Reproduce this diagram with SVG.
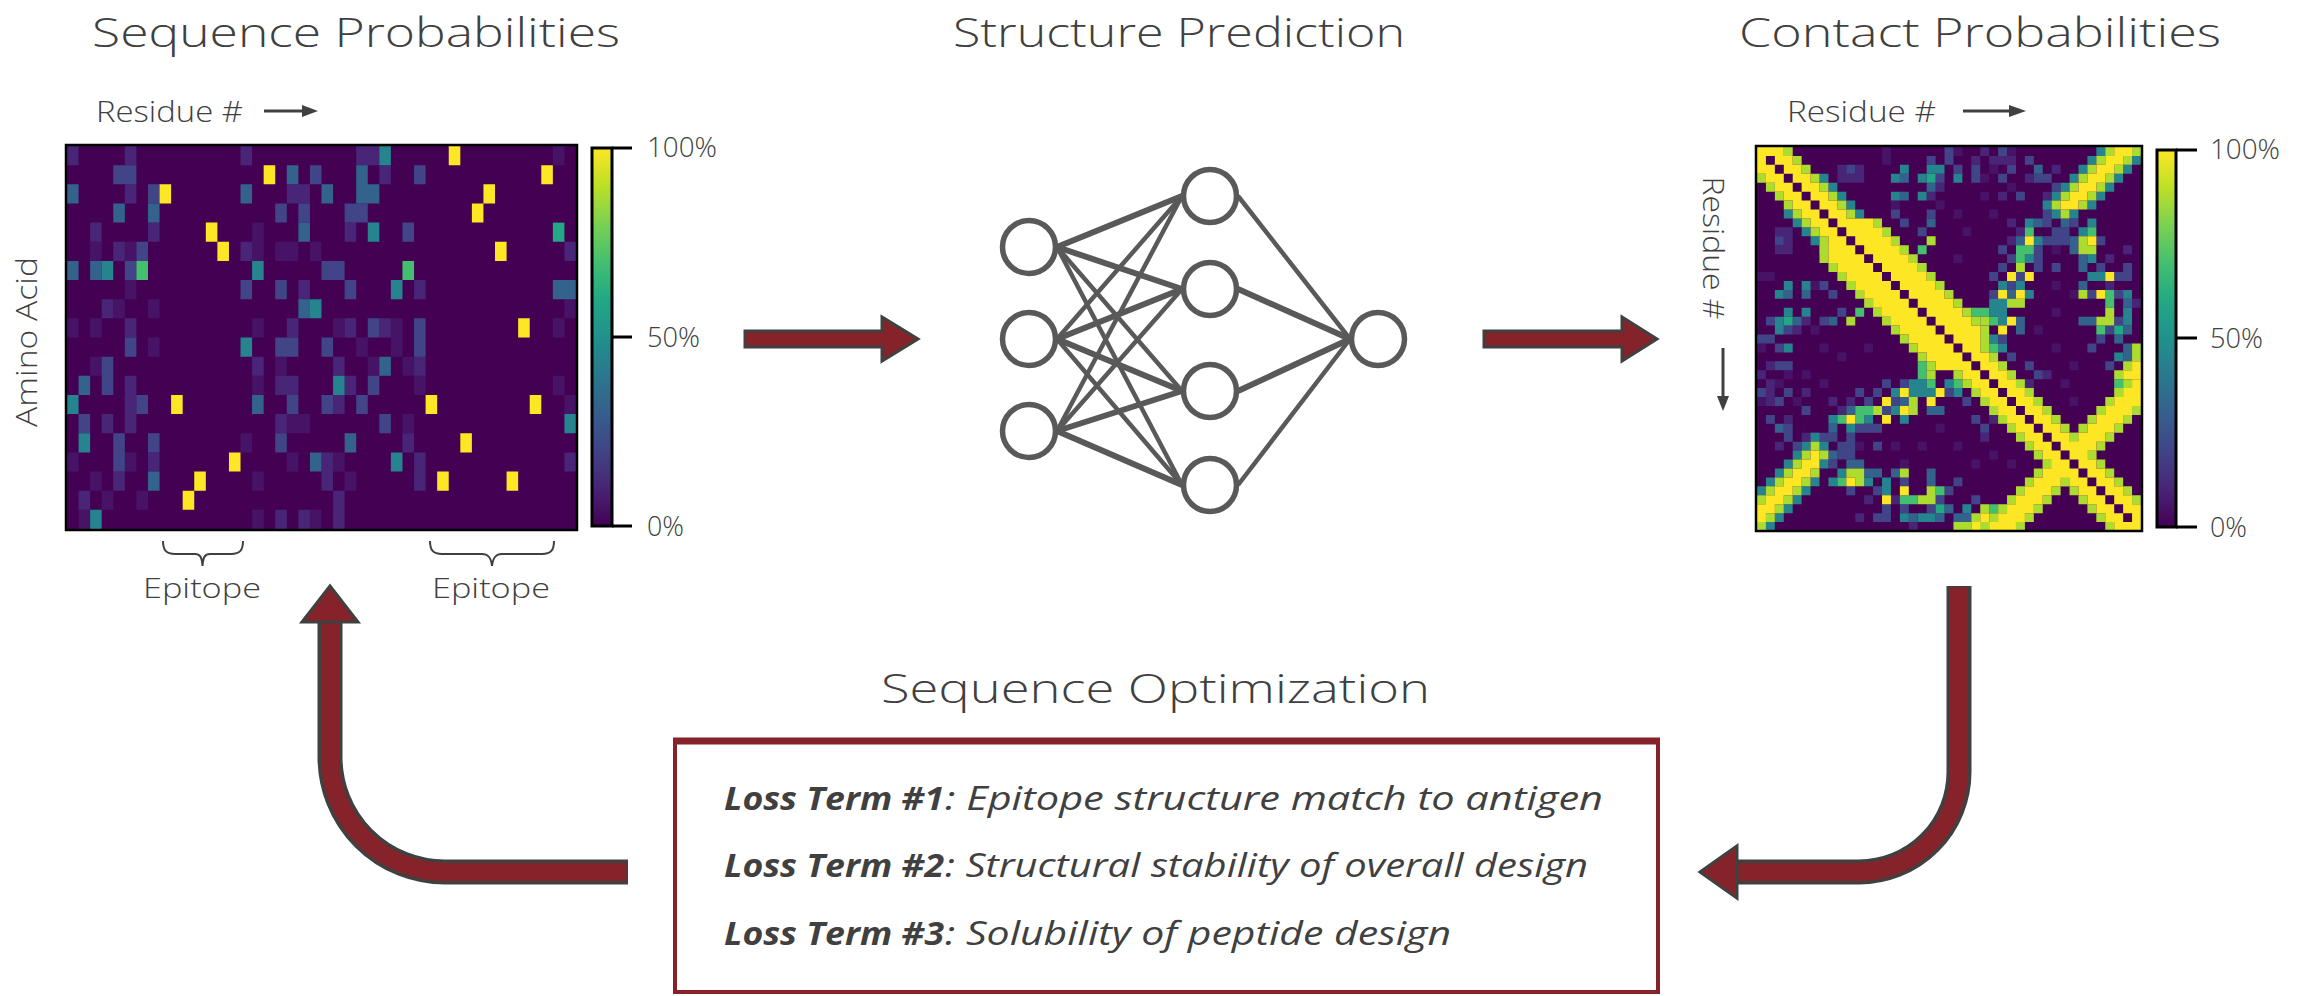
<svg xmlns="http://www.w3.org/2000/svg" xmlns:xlink="http://www.w3.org/1999/xlink" width="2307" height="996" viewBox="0 0 2307 996">
<defs>
<style>
.t{font-family:"Open Sans","Liberation Sans",Arial,sans-serif;font-weight:300;fill:#404040}
.title{font-size:40px}
.lab{font-size:30px}
.pct{font-size:27px}
.epi{font-size:27px}
.loss{font-size:33px;font-style:italic;font-weight:400}
.lb{font-weight:700}
.a{fill:#471366}.b{fill:#482576}.c{fill:#414487}.d{fill:#33638d}.e{fill:#25848e}.f{fill:#22a884}.g{fill:#44bf70}.h{fill:#addc30}.y{fill:#fde725}.k{fill:#440154}
.frame{fill:none;stroke:#000;stroke-width:2.5}
.cbar{stroke:#000;stroke-width:3}
.tick{stroke:#000;stroke-width:3}
.nn-edge{stroke:#595959;stroke-width:4.5}
.nn-edge.w{stroke-width:6}
.nn-node{fill:#fff;stroke:#595959;stroke-width:5.5}
.redarrow{fill:#86232a;stroke:#404040;stroke-width:3;stroke-linejoin:miter}
.bandout{fill:none;stroke:#404040;stroke-width:25}
.bandin{fill:none;stroke:#86232a;stroke-width:18}
.smallarrow{stroke:#404040;stroke-width:3}
.brace{fill:none;stroke:#404040;stroke-width:2}
</style>
<linearGradient id="viridis" x1="0" y1="0" x2="0" y2="1">
<stop offset="0" stop-color="#fde725"/>
<stop offset="0.1" stop-color="#bddf26"/>
<stop offset="0.2" stop-color="#7ad151"/>
<stop offset="0.3" stop-color="#44bf70"/>
<stop offset="0.4" stop-color="#22a884"/>
<stop offset="0.5" stop-color="#21918c"/>
<stop offset="0.6" stop-color="#2a788e"/>
<stop offset="0.7" stop-color="#355f8d"/>
<stop offset="0.8" stop-color="#414487"/>
<stop offset="0.9" stop-color="#482475"/>
<stop offset="1" stop-color="#440154"/>
</linearGradient>
</defs>
<rect width="2307" height="996" fill="#fff"/>

<g id="titles">
<text class="t title" x="92" y="47" textLength="528" lengthAdjust="spacingAndGlyphs">Sequence Probabilities</text>
<text class="t title" x="953" y="47" textLength="452" lengthAdjust="spacingAndGlyphs">Structure Prediction</text>
<text class="t title" x="1739" y="47" textLength="482" lengthAdjust="spacingAndGlyphs">Contact Probabilities</text>
<text class="t title" x="881" y="703" textLength="549" lengthAdjust="spacingAndGlyphs">Sequence Optimization</text>
</g>

<g id="seq-heatmap">
<text class="t lab" x="96" y="122" textLength="147" lengthAdjust="spacingAndGlyphs">Residue #</text>
<line class="smallarrow" x1="264" y1="111" x2="305" y2="111"/>
<polygon points="302,105 318,111 302,117" fill="#404040"/>
<text class="t lab" transform="translate(37,342) rotate(-90)" text-anchor="middle" textLength="170" lengthAdjust="spacingAndGlyphs">Amino Acid</text>
<g transform="translate(67,146) scale(11.568,19.15)">
<rect x="0" y="0" width="44" height="20" class="k"/>
<path class="a" d="M42 0h1v1h-1zM16 4h1v1h-1zM2 5h1v1h-1zM5 5h1v1h-1zM16 5h1v1h-1zM18 5h2v1h-2zM21 5h1v1h-1zM5 7h1v1h-1zM4 8h1v1h-1zM7 8h1v1h-1zM43 8h1v1h-1zM0 9h1v1h-1zM2 9h1v1h-1zM16 9h1v1h-1zM23 9h1v1h-1zM28 9h1v1h-1zM42 9h1v1h-1zM7 10h1v1h-1zM25 10h1v1h-1zM28 10h1v1h-1zM2 11h1v1h-1zM18 11h1v1h-1zM26 11h1v1h-1zM29 11h1v1h-1zM16 12h1v1h-1zM30 12h1v1h-1zM42 12h1v1h-1zM43 13h1v1h-1zM19 14h2v1h-2zM29 14h1v1h-1zM15 15h1v1h-1zM0 16h1v1h-1zM5 16h1v1h-1zM19 16h1v1h-1zM23 16h1v1h-1zM2 17h1v1h-1zM16 17h1v1h-1zM24 17h1v1h-1zM3 18h1v1h-1zM6 18h1v1h-1zM1 19h1v1h-1zM16 19h1v1h-1zM21 19h1v1h-1z"/>
<path class="b" d="M0 0h1v1h-1zM5 0h1v1h-1zM15 0h1v1h-1zM25 0h2v1h-2zM27 1h1v1h-1zM5 2h1v1h-1zM19 2h2v1h-2zM2 4h1v1h-1zM7 4h1v1h-1zM24 4h1v1h-1zM4 5h1v1h-1zM15 5h1v1h-1zM43 5h1v1h-1zM20 7h1v1h-1zM30 7h1v1h-1zM3 8h1v1h-1zM5 9h1v1h-1zM19 9h1v1h-1zM24 9h1v1h-1zM27 9h1v1h-1zM16 11h1v1h-1zM23 11h1v1h-1zM30 11h1v1h-1zM5 12h1v1h-1zM18 12h2v1h-2zM24 12h1v1h-1zM5 13h1v1h-1zM23 13h1v1h-1zM3 14h1v1h-1zM5 14h1v1h-1zM18 14h1v1h-1zM29 15h1v1h-1zM7 16h1v1h-1zM22 16h1v1h-1zM30 16h1v1h-1zM43 16h1v1h-1zM4 17h1v1h-1zM22 17h1v1h-1zM30 17h1v1h-1zM1 18h1v1h-1zM23 18h1v1h-1zM18 19h1v1h-1zM20 19h1v1h-1zM23 19h1v1h-1z"/>
<path class="c" d="M4 1h2v1h-2zM21 1h1v1h-1zM30 1h1v1h-1zM7 2h1v1h-1zM18 3h1v1h-1zM20 3h1v1h-1zM24 3h2v1h-2zM29 4h1v1h-1zM6 5h1v1h-1zM5 6h1v1h-1zM22 6h2v1h-2zM15 7h1v1h-1zM18 7h1v1h-1zM24 7h1v1h-1zM26 9h1v1h-1zM30 9h1v1h-1zM5 10h1v1h-1zM18 10h2v1h-2zM22 10h1v1h-1zM30 10h1v1h-1zM3 11h1v1h-1zM3 12h1v1h-1zM26 12h1v1h-1zM6 13h1v1h-1zM19 13h1v1h-1zM22 13h1v1h-1zM25 13h1v1h-1zM1 14h1v1h-1zM27 14h1v1h-1zM4 15h1v1h-1zM7 15h1v1h-1zM18 15h1v1h-1zM4 16h1v1h-1z"/>
<path class="d" d="M19 1h1v1h-1zM25 1h1v1h-1zM0 2h1v1h-1zM15 2h1v1h-1zM22 2h1v1h-1zM25 2h2v1h-2zM4 3h1v1h-1zM7 3h1v1h-1zM20 4h1v1h-1zM0 6h1v1h-1zM2 6h1v1h-1zM42 7h2v1h-2zM20 8h1v1h-1zM27 11h1v1h-1zM1 12h1v1h-1zM16 13h1v1h-1zM24 15h1v1h-1zM21 16h1v1h-1zM7 17h1v1h-1z"/>
<path class="e" d="M27 0h1v1h-1zM26 4h1v1h-1zM3 6h1v1h-1zM16 6h1v1h-1zM28 7h1v1h-1zM21 8h1v1h-1zM15 10h1v1h-1zM23 12h1v1h-1zM0 13h1v1h-1zM43 14h1v1h-1zM1 15h1v1h-1zM28 16h1v1h-1zM2 19h1v1h-1z"/>
<path class="f" d="M42 4h1v1h-1z"/>
<path class="g" d="M6 6h1v1h-1zM29 6h1v1h-1z"/>
<path class="y" d="M33 0h1v1h-1zM17 1h1v1h-1zM41 1h1v1h-1zM8 2h1v1h-1zM36 2h1v1h-1zM35 3h1v1h-1zM12 4h1v1h-1zM13 5h1v1h-1zM37 5h1v1h-1zM39 9h1v1h-1zM9 13h1v1h-1zM31 13h1v1h-1zM40 13h1v1h-1zM34 15h1v1h-1zM14 16h1v1h-1zM11 17h1v1h-1zM32 17h1v1h-1zM38 17h1v1h-1zM10 18h1v1h-1z"/>
</g>
<rect class="frame" x="66" y="145" width="511" height="385"/>
<path class="brace" d="M163 541C163 550 166 554 175 554H195C200 554 202 557 202.5 566C203 557 205 554 210 554H231C240 554 243 550 243 541"/>
<path class="brace" d="M430 541C430 550 433 554 442 554H482C488 554 491 557 492 566C493 557 496 554 502 554H542C551 554 554 550 554 541"/>
<text class="t epi" x="143" y="598" textLength="118" lengthAdjust="spacingAndGlyphs">Epitope</text>
<text class="t epi" x="432" y="598" textLength="118" lengthAdjust="spacingAndGlyphs">Epitope</text>
</g>

<g id="seq-colorbar">
<rect class="cbar" x="592" y="148" width="20" height="378" fill="url(#viridis)"/>
<line class="tick" x1="612" y1="148" x2="632" y2="148"/>
<line class="tick" x1="612" y1="337" x2="632" y2="337"/>
<line class="tick" x1="612" y1="526" x2="632" y2="526"/>
<text class="t pct" x="647" y="157" textLength="70" lengthAdjust="spacingAndGlyphs">100%</text>
<text class="t pct" x="647" y="347" textLength="53" lengthAdjust="spacingAndGlyphs">50%</text>
<text class="t pct" x="647" y="536" textLength="37" lengthAdjust="spacingAndGlyphs">0%</text>
</g>

<g id="structure-prediction">
<line class="nn-edge w" x1="1057" y1="247" x2="1182" y2="196"/>
<line class="nn-edge w" x1="1057" y1="247" x2="1182" y2="289"/>
<line class="nn-edge" x1="1057" y1="247" x2="1182" y2="391"/>
<line class="nn-edge" x1="1057" y1="247" x2="1182" y2="485"/>
<line class="nn-edge" x1="1057" y1="339" x2="1182" y2="196"/>
<line class="nn-edge w" x1="1057" y1="339" x2="1182" y2="289"/>
<line class="nn-edge w" x1="1057" y1="339" x2="1182" y2="391"/>
<line class="nn-edge" x1="1057" y1="339" x2="1182" y2="485"/>
<line class="nn-edge" x1="1057" y1="431" x2="1182" y2="196"/>
<line class="nn-edge" x1="1057" y1="431" x2="1182" y2="289"/>
<line class="nn-edge w" x1="1057" y1="431" x2="1182" y2="391"/>
<line class="nn-edge w" x1="1057" y1="431" x2="1182" y2="485"/>
<line class="nn-edge" x1="1238" y1="196" x2="1350" y2="339"/>
<line class="nn-edge w" x1="1238" y1="289" x2="1350" y2="339"/>
<line class="nn-edge w" x1="1238" y1="391" x2="1350" y2="339"/>
<line class="nn-edge" x1="1238" y1="485" x2="1350" y2="339"/>
<circle class="nn-node" cx="1029" cy="247" r="26.5"/>
<circle class="nn-node" cx="1029" cy="339" r="26.5"/>
<circle class="nn-node" cx="1029" cy="431" r="26.5"/>
<circle class="nn-node" cx="1210" cy="196" r="26.5"/>
<circle class="nn-node" cx="1210" cy="289" r="26.5"/>
<circle class="nn-node" cx="1210" cy="391" r="26.5"/>
<circle class="nn-node" cx="1210" cy="485" r="26.5"/>
<circle class="nn-node" cx="1378" cy="339" r="26.5"/>
</g>

<g id="contact-heatmap">
<text class="t lab" x="1787" y="122" textLength="149" lengthAdjust="spacingAndGlyphs">Residue #</text>
<line class="smallarrow" x1="1963" y1="111" x2="2012" y2="111"/>
<polygon points="2009,105 2026,111 2009,117" fill="#404040"/>
<text class="t lab" transform="translate(1703,248) rotate(90)" text-anchor="middle" textLength="143" lengthAdjust="spacingAndGlyphs">Residue #</text>
<line class="smallarrow" x1="1723" y1="348" x2="1723" y2="398"/>
<polygon points="1717,396 1723,411 1729,396" fill="#404040"/>
<g transform="translate(1757,147) scale(8.93)">
<rect x="0" y="0" width="43" height="43" class="k"/>
<g id="cm-half">
<path class="a" d="M14 0h1v1h-1zM22 0h1v1h-1zM28 0h1v1h-1zM14 1h1v1h-1zM26 2h1v1h-1zM25 3h1v1h-1zM28 4h1v1h-1zM25 5h1v1h-1zM15 6h1v1h-1zM20 6h1v1h-1zM22 7h1v1h-1zM26 7h1v1h-1zM23 9h1v1h-1zM33 11h1v1h-1zM22 12h1v1h-1zM33 15h1v1h-1zM35 16h1v1h-1zM33 18h1v1h-1zM31 20h1v1h-1zM33 22h1v1h-1zM35 24h1v1h-1zM34 26h1v1h-1zM35 28h1v1h-1z"/>
<path class="b" d="M25 0h1v1h-1zM24 1h1v1h-1zM26 1h3v1h-3zM9 2h1v1h-1zM11 2h1v1h-1zM33 2h1v1h-1zM9 3h3v1h-3zM30 3h1v1h-1zM20 4h1v1h-1zM19 5h1v1h-1zM27 5h1v1h-1zM32 5h1v1h-1zM28 8h1v1h-1zM29 9h1v1h-1zM28 10h1v1h-1zM41 11h1v1h-1zM39 12h1v1h-1zM39 15h1v1h-1zM42 17h1v1h-1zM32 25h1v1h-1zM30 26h1v1h-1z"/>
<path class="c" d="M21 0h1v1h-1zM27 0h1v1h-1zM19 1h1v1h-1zM21 1h1v1h-1zM30 1h1v1h-1zM10 2h1v1h-1zM22 2h1v1h-1zM24 2h1v1h-1zM28 2h1v1h-1zM20 3h1v1h-1zM24 3h1v1h-1zM27 3h1v1h-1zM31 3h2v1h-2zM33 4h1v1h-1zM29 5h1v1h-1zM32 6h1v1h-1zM15 7h1v1h-1zM19 7h1v1h-1zM32 7h1v1h-1zM16 8h1v1h-1zM32 8h1v1h-1zM35 8h1v1h-1zM18 9h1v1h-1zM33 9h2v1h-2zM32 10h3v1h-3zM38 10h1v1h-1zM27 11h1v1h-1zM31 11h1v1h-1zM28 12h1v1h-1zM31 12h1v1h-1zM27 13h1v1h-1zM31 13h1v1h-1zM33 13h1v1h-1zM38 13h1v1h-1zM41 13h1v1h-1zM26 14h1v1h-1zM29 14h1v1h-1zM40 14h2v1h-2zM28 15h1v1h-1zM26 16h1v1h-1zM37 16h1v1h-1zM40 16h1v1h-1zM40 19h1v1h-1zM39 20h1v1h-1zM27 21h1v1h-1zM38 21h1v1h-1zM37 22h1v1h-1zM28 23h1v1h-1zM30 24h1v1h-1zM39 24h1v1h-1zM31 25h1v1h-1z"/>
<path class="d" d="M31 2h1v1h-1zM16 3h1v1h-1zM19 4h1v1h-1zM16 5h1v1h-1zM33 7h1v1h-1zM19 8h1v1h-1zM31 8h1v1h-1zM34 8h1v1h-1zM29 10h1v1h-1zM35 10h1v1h-1zM35 11h1v1h-1zM36 12h1v1h-1zM36 13h1v1h-1zM36 15h1v1h-1zM28 16h1v1h-1zM41 17h1v1h-1zM29 19h1v1h-1zM36 19h2v1h-2zM29 20h1v1h-1zM41 20h1v1h-1zM40 21h1v1h-1zM41 22h1v1h-1zM41 23h1v1h-1z"/>
<path class="e" d="M16 2h1v1h-1zM19 2h2v1h-2zM15 3h1v1h-1zM18 3h1v1h-1zM22 3h1v1h-1zM15 5h1v1h-1zM18 5h1v1h-1zM30 8h1v1h-1zM37 8h1v1h-1zM36 9h1v1h-1zM31 10h1v1h-1zM30 12h1v1h-1zM37 12h1v1h-1zM37 14h2v1h-2zM27 15h1v1h-1zM29 15h1v1h-1zM30 16h1v1h-1zM41 16h1v1h-1zM26 17h2v1h-2zM26 18h2v1h-2zM41 18h1v1h-1zM27 19h1v1h-1zM41 19h1v1h-1zM26 21h1v1h-1zM27 22h1v1h-1zM40 23h1v1h-1zM7 3h1v1h-1zM8 4h1v1h-1zM9 5h1v1h-1zM10 6h1v1h-1zM11 7h1v1h-1zM38 0h1v1h-1zM37 1h1v1h-1zM42 1h1v1h-1zM36 2h1v1h-1zM41 2h1v1h-1zM35 3h1v1h-1zM40 3h1v1h-1zM34 4h1v1h-1zM39 4h1v1h-1zM33 5h1v1h-1zM38 5h1v1h-1zM32 6h1v1h-1zM37 6h1v1h-1zM33 7h1v1h-1zM35 7h1v1h-1z"/>
<path class="f" d="M19 3h1v1h-1zM40 20h1v1h-1z"/>
<path class="g" d="M30 9h1v1h-1zM37 9h1v1h-1zM18 11h1v1h-1zM29 11h2v1h-2zM29 12h1v1h-1zM24 18h2v1h-2zM26 19h1v1h-1zM39 16h1v1h-1zM39 17h1v1h-1zM38 20h1v1h-1zM26 22h1v1h-1zM40 26h1v1h-1z"/>
<path class="h" d="M19 10h1v1h-1zM36 10h1v1h-1zM36 11h2v1h-2zM29 13h1v1h-1zM28 17h2v1h-2zM39 18h1v1h-1zM25 19h1v1h-1zM38 19h2v1h-2zM42 22h1v1h-1zM42 23h1v1h-1zM41 24h1v1h-1zM40 25h1v1h-1zM36 16h1v1h-1zM39 0h1v1h-1zM42 0h1v1h-1zM38 1h1v1h-1zM41 1h1v1h-1zM37 2h1v1h-1zM40 2h1v1h-1zM36 3h1v1h-1zM39 3h1v1h-1zM35 4h1v1h-1zM38 4h1v1h-1zM34 5h1v1h-1zM37 5h1v1h-1zM33 6h1v1h-1zM36 6h1v1h-1zM34 7h1v1h-1z"/>
<path class="y" d="M30 10h1v1h-1zM37 10h1v1h-1zM28 14h1v1h-1zM30 14h1v1h-1zM39 14h1v1h-1zM27 16h1v1h-1zM29 16h1v1h-1zM38 16h1v1h-1zM28 19h1v1h-1zM27 20h1v1h-1zM42 24h1v1h-1zM41 25h2v1h-2zM40 0h2v1h-2zM39 1h2v1h-2zM38 2h2v1h-2zM37 3h2v1h-2zM36 4h2v1h-2zM35 5h2v1h-2zM34 6h2v1h-2z"/>
</g>
<use href="#cm-half" xlink:href="#cm-half" transform="matrix(0 1 1 0 0 0)"/>
<path class="h" d="M3 0h1v1h-1zM4 1h1v1h-1zM5 2h1v1h-1zM0 3h1v1h-1zM6 3h1v1h-1zM1 4h1v1h-1zM7 4h1v1h-1zM2 5h1v1h-1zM8 5h1v1h-1zM3 6h1v1h-1zM9 6h1v1h-1zM4 7h1v1h-1zM10 7h1v1h-1zM5 8h1v1h-1zM13 8h1v1h-1zM6 9h1v1h-1zM14 9h1v1h-1zM7 10h1v1h-1zM15 10h1v1h-1zM7 11h1v1h-1zM16 11h1v1h-1zM7 12h1v1h-1zM17 12h1v1h-1zM8 13h1v1h-1zM18 13h1v1h-1zM9 14h1v1h-1zM19 14h1v1h-1zM10 15h1v1h-1zM20 15h1v1h-1zM11 16h1v1h-1zM21 16h1v1h-1zM12 17h1v1h-1zM22 17h1v1h-1zM13 18h1v1h-1zM23 18h1v1h-1zM14 19h1v1h-1zM24 19h1v1h-1zM15 20h1v1h-1zM25 20h1v1h-1zM16 21h1v1h-1zM25 21h1v1h-1zM17 22h1v1h-1zM25 22h1v1h-1zM18 23h1v1h-1zM26 23h1v1h-1zM19 24h1v1h-1zM27 24h1v1h-1zM22 25h1v1h-1zM28 25h1v1h-1zM23 26h1v1h-1zM29 26h1v1h-1zM24 27h1v1h-1zM30 27h1v1h-1zM25 28h1v1h-1zM31 28h1v1h-1zM26 29h1v1h-1zM32 29h1v1h-1zM27 30h1v1h-1zM33 30h1v1h-1zM28 31h1v1h-1zM34 31h1v1h-1zM29 32h1v1h-1zM35 32h1v1h-1zM30 33h1v1h-1zM36 33h1v1h-1zM31 34h1v1h-1zM37 34h1v1h-1zM32 35h1v1h-1zM38 35h1v1h-1zM33 36h1v1h-1zM39 36h1v1h-1zM34 37h1v1h-1zM40 37h1v1h-1zM35 38h1v1h-1zM41 38h1v1h-1zM36 39h1v1h-1zM42 39h1v1h-1zM37 40h1v1h-1zM38 41h1v1h-1zM39 42h1v1h-1z"/>
<path class="h" d="M41 26h1v1h-1zM40 27h1v1h-1zM39 28h1v1h-1zM38 29h1v1h-1zM42 29h1v1h-1zM37 30h1v1h-1zM41 30h1v1h-1zM36 31h1v1h-1zM40 31h1v1h-1zM35 32h1v1h-1zM39 32h1v1h-1zM34 33h1v1h-1zM38 33h1v1h-1zM33 34h1v1h-1zM37 34h1v1h-1zM32 35h1v1h-1zM36 35h1v1h-1zM31 36h1v1h-1zM35 36h1v1h-1zM30 37h1v1h-1zM34 37h1v1h-1zM29 38h1v1h-1zM33 38h1v1h-1zM28 39h1v1h-1zM32 39h1v1h-1zM27 40h1v1h-1zM31 40h1v1h-1zM26 41h1v1h-1zM30 41h1v1h-1zM25 42h1v1h-1zM29 42h1v1h-1z"/>
<path class="y" d="M0 0h3v1h-3zM0 1h4v1h-4zM0 2h5v1h-5zM1 3h5v1h-5zM2 4h5v1h-5zM3 5h5v1h-5zM4 6h5v1h-5zM5 7h5v1h-5zM6 8h7v1h-7zM7 9h7v1h-7zM8 10h7v1h-7zM8 11h8v1h-8zM8 12h9v1h-9zM9 13h9v1h-9zM10 14h9v1h-9zM11 15h9v1h-9zM12 16h9v1h-9zM13 17h9v1h-9zM14 18h9v1h-9zM15 19h9v1h-9zM16 20h9v1h-9zM17 21h8v1h-8zM18 22h7v1h-7zM19 23h7v1h-7zM20 24h7v1h-7zM23 25h5v1h-5zM24 26h5v1h-5zM25 27h5v1h-5zM26 28h5v1h-5zM27 29h5v1h-5zM28 30h5v1h-5zM29 31h5v1h-5zM30 32h5v1h-5zM31 33h5v1h-5zM32 34h5v1h-5zM33 35h5v1h-5zM34 36h5v1h-5zM35 37h5v1h-5zM36 38h5v1h-5zM37 39h5v1h-5zM38 40h5v1h-5zM39 41h4v1h-4zM40 42h3v1h-3z"/>
<path class="y" d="M42 26h1v1h-1zM41 27h2v1h-2zM40 28h3v1h-3zM39 29h3v1h-3zM38 30h3v1h-3zM37 31h3v1h-3zM36 32h3v1h-3zM35 33h3v1h-3zM34 34h3v1h-3zM33 35h3v1h-3zM32 36h3v1h-3zM31 37h3v1h-3zM30 38h3v1h-3zM29 39h3v1h-3zM28 40h3v1h-3zM27 41h3v1h-3zM26 42h3v1h-3z"/>
<path class="k" d="M1 1h1v1h-1zM2 2h1v1h-1zM3 3h1v1h-1zM4 4h1v1h-1zM5 5h1v1h-1zM6 6h1v1h-1zM7 7h1v1h-1zM8 8h1v1h-1zM9 9h1v1h-1zM10 10h1v1h-1zM11 11h1v1h-1zM12 12h1v1h-1zM13 13h1v1h-1zM14 14h1v1h-1zM15 15h1v1h-1zM16 16h1v1h-1zM17 17h1v1h-1zM18 18h1v1h-1zM19 19h1v1h-1zM20 20h1v1h-1zM21 21h1v1h-1zM22 22h1v1h-1zM23 23h1v1h-1zM24 24h1v1h-1zM25 25h1v1h-1zM26 26h1v1h-1zM27 27h1v1h-1zM28 28h1v1h-1zM29 29h1v1h-1zM30 30h1v1h-1zM31 31h1v1h-1zM32 32h1v1h-1zM33 33h1v1h-1zM34 34h1v1h-1zM35 35h1v1h-1zM36 36h1v1h-1zM37 37h1v1h-1zM38 38h1v1h-1zM39 39h1v1h-1zM40 40h1v1h-1zM41 41h1v1h-1z"/>
</g>
<rect class="frame" x="1756" y="146" width="386" height="385"/>
</g>

<g id="contact-colorbar">
<rect class="cbar" x="2157" y="150" width="19" height="377" fill="url(#viridis)"/>
<line class="tick" x1="2176" y1="150" x2="2197" y2="150"/>
<line class="tick" x1="2176" y1="338" x2="2197" y2="338"/>
<line class="tick" x1="2176" y1="527" x2="2197" y2="527"/>
<text class="t pct" x="2210" y="159" textLength="70" lengthAdjust="spacingAndGlyphs">100%</text>
<text class="t pct" x="2210" y="348" textLength="53" lengthAdjust="spacingAndGlyphs">50%</text>
<text class="t pct" x="2210" y="537" textLength="37" lengthAdjust="spacingAndGlyphs">0%</text>
</g>

<g id="optimization-box">
<rect x="675" y="741" width="983" height="251" fill="#fff" stroke="#86232a" stroke-width="4"/>
<line x1="673" y1="741" x2="1660" y2="741" stroke="#86232a" stroke-width="7"/>
<text class="t loss lb" x="724" y="810" textLength="220" lengthAdjust="spacingAndGlyphs">Loss Term #1</text>
<text class="t loss" x="945" y="810" textLength="658" lengthAdjust="spacingAndGlyphs">: Epitope structure match to antigen</text>
<text class="t loss lb" x="724" y="877" textLength="220" lengthAdjust="spacingAndGlyphs">Loss Term #2</text>
<text class="t loss" x="945" y="877" textLength="643" lengthAdjust="spacingAndGlyphs">: Structural stability of overall design</text>
<text class="t loss lb" x="724" y="945" textLength="220" lengthAdjust="spacingAndGlyphs">Loss Term #3</text>
<text class="t loss" x="945" y="945" textLength="506" lengthAdjust="spacingAndGlyphs">: Solubility of peptide design</text>
</g>

<g id="connectors">
<polygon class="redarrow" points="745,331 882,331 882,317 918,339 882,361 882,347 745,347"/>
<polygon class="redarrow" points="1484,331 1622,331 1622,317 1657,339 1622,361 1622,347 1484,347"/>
<path class="bandout" d="M1959 586V772A100 100 0 0 1 1859 872H1737"/>
<path class="bandin" d="M1959 587.5V772A100 100 0 0 1 1859 872H1737"/>
<polygon class="redarrow" points="1737,846 1737,898 1700,872"/>
<path class="bandout" d="M628 872H445A115 115 0 0 1 330 757V622"/>
<path class="bandin" d="M626.5 872H445A115 115 0 0 1 330 757V622"/>
<polygon class="redarrow" points="302,622 358,622 330,586"/>
</g>
</svg>
